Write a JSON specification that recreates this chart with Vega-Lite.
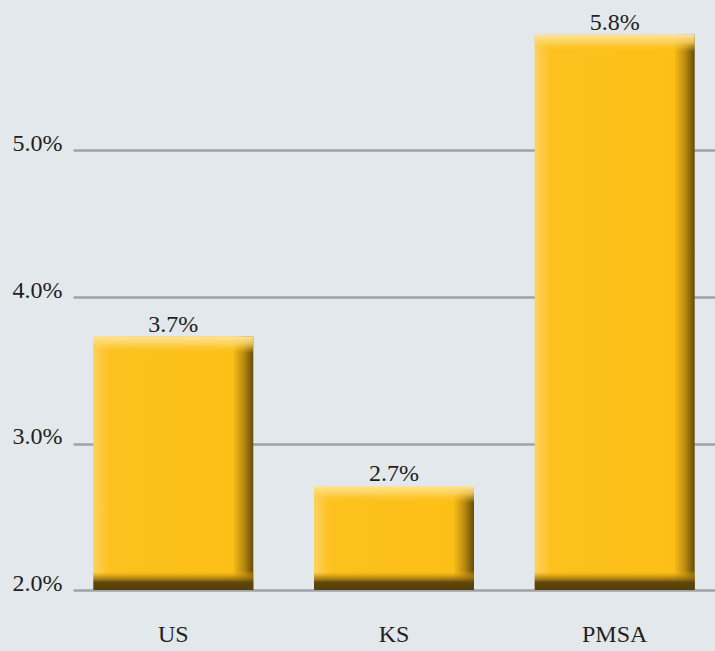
{
  "$schema": "https://vega.github.io/schema/vega-lite/v6.json",
  "autosize": {"type": "none"},
  "width": 642,
  "height": 586,
  "padding": {"left": 73, "top": 4, "right": 0, "bottom": 61},
  "background": "#e3e8ec",
  "config": {
    "view": {"stroke": null},
    "font": "Liberation Serif",
    "axis": {"labelFont": "Liberation Serif", "labelColor": "#231f20", "labelFontSize": 24}
  },
  "data": {
    "values": [
      {"region": "US", "value": 0.0373},
      {"region": "KS", "value": 0.0271},
      {"region": "PMSA", "value": 0.0579}
    ]
  },
  "encoding": {
    "x": {
      "field": "region",
      "type": "nominal",
      "sort": null,
      "scale": {"paddingInner": 0.275, "paddingOuter": 0.092},
      "axis": {"title": null, "domain": false, "ticks": false, "labelAngle": 0, "labelPadding": 44, "labelBaseline": "middle"}
    }
  },
  "layer": [
    {
      "mark": {
        "type": "bar",
        "fill": {
          "gradient": "linear", "x1": 0, "x2": 1, "y1": 0, "y2": 0,
          "stops": [
            {"offset": 0, "color": "#fdd262"},
            {"offset": 0.1, "color": "#fcc11e"},
            {"offset": 0.87, "color": "#fcbf16"},
            {"offset": 0.94, "color": "#b98a10"},
            {"offset": 1, "color": "#664b0a"}
          ]
        }
      },
      "encoding": {
        "y": {
          "field": "value",
          "type": "quantitative",
          "scale": {"domain": [0.02, 0.06], "zero": false, "nice": false},
          "axis": {
            "title": null,
            "values": [0.02, 0.03, 0.04, 0.05],
            "format": ".1%",
            "domain": false,
            "ticks": false,
            "labelPadding": 11,
            "labelBaseline": "alphabetic",
            "gridColor": "#9fa3a7",
            "gridWidth": 2.5,
            "gridOpacity": 1
          }
        },
        "y2": {"datum": 0.02}
      }
    },
    {
      "mark": {
        "type": "bar",
        "y2Offset": 17,
        "fill": {
          "gradient": "linear", "x1": 0, "x2": 0, "y1": 0, "y2": 1,
          "stops": [
            {"offset": 0, "color": "rgba(254,228,156,1)"},
            {"offset": 0.45, "color": "rgba(253,214,100,0.8)"},
            {"offset": 1, "color": "rgba(252,193,30,0)"}
          ]
        }
      },
      "encoding": {
        "y": {"field": "value", "type": "quantitative"},
        "y2": {"field": "value"}
      }
    },
    {
      "mark": {
        "type": "bar",
        "yOffset": -19,
        "fill": {
          "gradient": "linear", "x1": 0, "x2": 0, "y1": 0, "y2": 1,
          "stops": [
            {"offset": 0, "color": "rgba(252,191,22,0)"},
            {"offset": 0.25, "color": "rgba(190,140,16,0.6)"},
            {"offset": 0.6, "color": "rgba(95,70,12,1)"},
            {"offset": 1, "color": "rgba(85,63,11,1)"}
          ]
        }
      },
      "encoding": {
        "y": {"datum": 0.02, "type": "quantitative"},
        "y2": {"datum": 0.02}
      }
    },
    {
      "mark": {"type": "text", "baseline": "alphabetic", "dy": -5, "fontSize": 24, "color": "#231f20", "font": "Liberation Serif"},
      "encoding": {
        "y": {"field": "value", "type": "quantitative"},
        "text": {"field": "value", "type": "quantitative", "format": ".1%"}
      }
    }
  ]
}
